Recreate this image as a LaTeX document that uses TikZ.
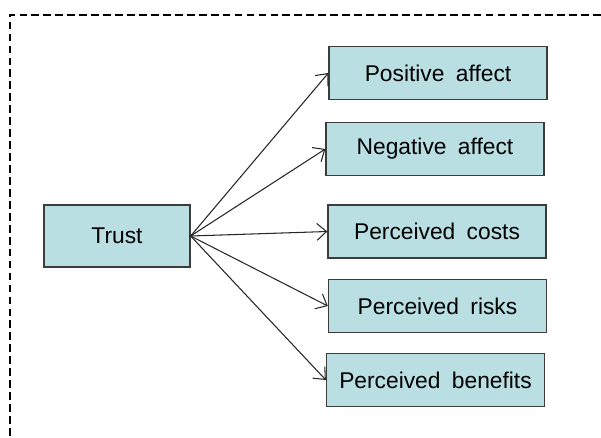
\documentclass[tikz,border=0pt]{standalone}
\usepackage{fontspec}
\setmainfont{Liberation Sans}
\usetikzlibrary{arrows.meta}

\definecolor{boxfill}{RGB}{185,223,227}
\definecolor{boxline}{RGB}{60,60,60}

\tikzstyle{factor}=[draw=boxline, line width=0.9pt, fill=boxfill, minimum width=5.45cm, minimum height=1.32cm, inner sep=0pt, font=\fontsize{16.2}{19}\selectfont]
\tikzstyle{source}=[factor, minimum width=3.65cm, minimum height=1.55cm]
\tikzstyle{arrow}=[line width=0.75pt, draw=black!85, -{Straight Barb[length=2.4mm, width=4.2mm]}]
\tikzstyle{frame}=[line width=0.9pt, dash pattern=on 5.5pt off 3pt]

\newcommand{\gap}{\hspace{0.5em}}

\begin{document}
\begin{tikzpicture}[x=0.025cm, y=-0.025cm]
      \useasboundingbox (0,0) rectangle (601,437);
      \draw[frame] (601,15) -- (10,15) -- (10,437);

      \node[source] (trust) at (117,236) {Trust};
      \node[factor] (pos) at (438,73) {Positive\gap affect};
      \node[factor] (neg) at (435,149) {Negative\gap affect};
      \node[factor] (cost) at (437,231.5) {Perceived\gap costs};
      \node[factor] (risk) at (437.5,306) {Perceived\gap risks};
      \node[factor] (ben) at (435.5,380) {Perceived\gap benefits};

      \draw[arrow] (trust.east) to (pos.west);
      \draw[arrow] (trust.east) to (neg.west);
      \draw[arrow] (trust.east) to (cost.west);
      \draw[arrow] (trust.east) to (risk.west);
      \draw[arrow] (trust.east) to (ben.west);
\end{tikzpicture}
\end{document}
